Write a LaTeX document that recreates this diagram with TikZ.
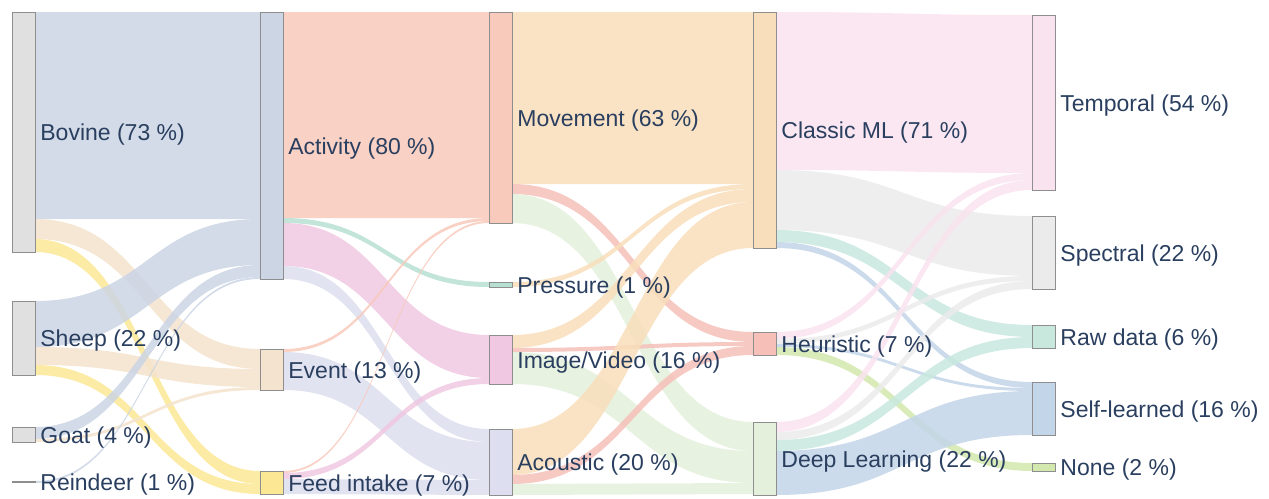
\documentclass[tikz,border=0pt]{standalone}
\usepackage{fontspec}
\setmainfont{Liberation Sans}
\usepackage{tikz}
\usetikzlibrary{calc,positioning,backgrounds}

\definecolor{txt}{HTML}{2A3F5F}
\definecolor{edge}{HTML}{8E8E8E}
\definecolor{cAnimal}{HTML}{E0E0E0}
\definecolor{cActivity}{HTML}{CBD5E4}
\definecolor{cEvent}{HTML}{F4E3CE}
\definecolor{cFeed}{HTML}{FCE795}
\definecolor{cMovement}{HTML}{F8CABB}
\definecolor{cPressure}{HTML}{B8E0D2}
\definecolor{cImage}{HTML}{F0C8E2}
\definecolor{cAcoustic}{HTML}{DDDEEF}
\definecolor{cClassic}{HTML}{F8DEBA}
\definecolor{cHeuristic}{HTML}{F6BFB8}
\definecolor{cDeep}{HTML}{E4F0DC}
\definecolor{cTemporal}{HTML}{F9E3EF}
\definecolor{cSpectral}{HTML}{EBEBEB}
\definecolor{cRaw}{HTML}{C8E8DE}
\definecolor{cSelf}{HTML}{C3D5E8}
\definecolor{cNone}{HTML}{D3E8AE}

\newcommand{\flow}[6]{%
  \coordinate (fa) at ($(#1.north east)+(0,#2)$);
  \coordinate (fc) at ($(#1.north east)+(0,#2+#5)$);
  \coordinate (fb) at ($(#3.north west)+(0,#4)$);
  \coordinate (fd) at ($(#3.north west)+(0,#4+#5)$);
  \coordinate (fm) at ($(fa)!.5!(fb)$);
  \fill[#6, fill opacity=.85] (fa) .. controls (fa-|fm) and (fb-|fm) .. (fb)
    -- (fd) .. controls (fd-|fm) and (fc-|fm) .. (fc) -- cycle;
}

\begin{document}
\begin{tikzpicture}[x=0.5pt, y=-0.5pt,
  stage/.style={draw=edge, line width=.5pt, inner sep=0pt, outer sep=0pt,
    minimum width=11.5pt, anchor=north west},
  tag/.style={text=txt, inner sep=0pt, yshift=-1.5pt, font=\fontsize{11.5}{13}\selectfont}]
\useasboundingbox (0,0) rectangle (1269,498);

\node[stage, fill=cAnimal, minimum height=120pt] (bovine) at (12,12) {};
\node[stage, fill=cAnimal, minimum height=37pt] (sheep) at (12,301) {};
\node[stage, fill=cAnimal, minimum height=7.5pt] (goat) at (12,427) {};
\node[stage, fill=cAnimal, minimum height=0.6pt] (reindeer) at (12,481) {};

\node[stage, fill=cActivity, minimum height=133.5pt] (activity) at (260,12) {};
\node[stage, fill=cEvent, minimum height=20.5pt] (event) at (260,349) {};
\node[stage, fill=cFeed, minimum height=11.5pt] (feed) at (260,471) {};

\node[stage, fill=cMovement, minimum height=105.5pt] (movement) at (489,12) {};
\node[stage, fill=cPressure, minimum height=2.5pt] (pressure) at (489,282) {};
\node[stage, fill=cImage, minimum height=24.5pt] (imagevideo) at (489,335) {};
\node[stage, fill=cAcoustic, minimum height=33pt] (acoustic) at (489,429) {};

\node[stage, fill=cClassic, minimum height=118pt] (classicml) at (753,12) {};
\node[stage, fill=cHeuristic, minimum height=11.5pt] (heuristic) at (753,332) {};
\node[stage, fill=cDeep, minimum height=36.5pt] (deeplearning) at (753,422) {};

\node[stage, fill=cTemporal, minimum height=87.5pt] (temporal) at (1032,15) {};
\node[stage, fill=cSpectral, minimum height=36.5pt] (spectral) at (1032,216) {};
\node[stage, fill=cRaw, minimum height=11.5pt] (rawdata) at (1032,325) {};
\node[stage, fill=cSelf, minimum height=26.5pt] (selflearned) at (1032,382) {};
\node[stage, fill=cNone, minimum height=4pt] (none) at (1032,463) {};

\begin{pgfonlayer}{background}
\flow{bovine}{0}{activity}{0}{207}{cActivity}
\flow{bovine}{207}{event}{0}{20}{cEvent}
\flow{bovine}{227}{feed}{0}{13}{cFeed}
\flow{sheep}{0}{activity}{207}{46}{cActivity}
\flow{sheep}{46}{event}{20}{18}{cEvent}
\flow{sheep}{64}{feed}{13}{10}{cFeed}
\flow{goat}{0}{activity}{253}{12}{cActivity}
\flow{goat}{12}{event}{38}{3}{cEvent}
\flow{reindeer}{0}{activity}{265}{2}{cActivity}

\flow{activity}{0}{movement}{0}{206}{cMovement}
\flow{activity}{206}{pressure}{0}{5}{cPressure}
\flow{activity}{211}{imagevideo}{0}{43}{cImage}
\flow{activity}{254}{acoustic}{0}{13}{cAcoustic}
\flow{event}{0}{movement}{206}{3}{cMovement}
\flow{event}{3}{acoustic}{13}{38}{cAcoustic}
\flow{feed}{0}{movement}{209}{2}{cMovement}
\flow{feed}{2}{imagevideo}{43}{6}{cImage}
\flow{feed}{8}{acoustic}{51}{15}{cAcoustic}

\flow{movement}{0}{classicml}{0}{172}{cClassic}
\flow{movement}{172}{heuristic}{0}{10}{cHeuristic}
\flow{movement}{182}{deeplearning}{0}{29}{cDeep}
\flow{pressure}{0}{classicml}{172}{5}{cClassic}
\flow{imagevideo}{0}{classicml}{177}{13}{cClassic}
\flow{imagevideo}{13}{heuristic}{10}{4}{cHeuristic}
\flow{imagevideo}{17}{deeplearning}{29}{32}{cDeep}
\flow{acoustic}{0}{classicml}{190}{46}{cClassic}
\flow{acoustic}{46}{heuristic}{14}{9}{cHeuristic}
\flow{acoustic}{55}{deeplearning}{61}{11}{cDeep}

\flow{classicml}{0}{temporal}{0}{158}{cTemporal}
\flow{classicml}{158}{spectral}{0}{60}{cSpectral}
\flow{classicml}{218}{rawdata}{0}{12}{cRaw}
\flow{classicml}{230}{selflearned}{0}{6}{cSelf}
\flow{heuristic}{0}{temporal}{158}{7}{cTemporal}
\flow{heuristic}{7}{spectral}{60}{5}{cSpectral}
\flow{heuristic}{12}{selflearned}{6}{3}{cSelf}
\flow{heuristic}{15}{none}{0}{8}{cNone}
\flow{deeplearning}{0}{temporal}{165}{10}{cTemporal}
\flow{deeplearning}{10}{spectral}{65}{8}{cSpectral}
\flow{deeplearning}{18}{rawdata}{12}{11}{cRaw}
\flow{deeplearning}{29}{selflearned}{9}{44}{cSelf}
\end{pgfonlayer}

\node[tag, right=2.5pt of bovine] (bovinetag) {Bovine (73 \%)};
\node[tag, right=2.5pt of sheep] (sheeptag) {Sheep (22 \%)};
\node[tag, right=2.5pt of goat] (goattag) {Goat (4 \%)};
\node[tag, right=2.5pt of reindeer] (reindeertag) {Reindeer (1 \%)};
\node[tag, right=2.5pt of activity] (activitytag) {Activity (80 \%)};
\node[tag, right=2.5pt of event] (eventtag) {Event (13 \%)};
\node[tag, right=2.5pt of feed] (feedtag) {Feed intake (7 \%)};
\node[tag, right=2.5pt of movement] (movementtag) {Movement (63 \%)};
\node[tag, right=2.5pt of pressure] (pressuretag) {Pressure (1 \%)};
\node[tag, right=2.5pt of imagevideo] (imagevideotag) {Image/Video (16 \%)};
\node[tag, right=2.5pt of acoustic] (acoustictag) {Acoustic (20 \%)};
\node[tag, right=2.5pt of classicml] (classicmltag) {Classic ML (71 \%)};
\node[tag, right=2.5pt of heuristic] (heuristictag) {Heuristic (7 \%)};
\node[tag, right=2.5pt of deeplearning] (deeplearningtag) {Deep Learning (22 \%)};
\node[tag, right=2.5pt of temporal] (temporaltag) {Temporal (54 \%)};
\node[tag, right=2.5pt of spectral] (spectraltag) {Spectral (22 \%)};
\node[tag, right=2.5pt of rawdata] (rawdatatag) {Raw data (6 \%)};
\node[tag, right=2.5pt of selflearned] (selflearnedtag) {Self-learned (16 \%)};
\node[tag, right=2.5pt of none] (nonetag) {None (2 \%)};
\end{tikzpicture}
\end{document}
